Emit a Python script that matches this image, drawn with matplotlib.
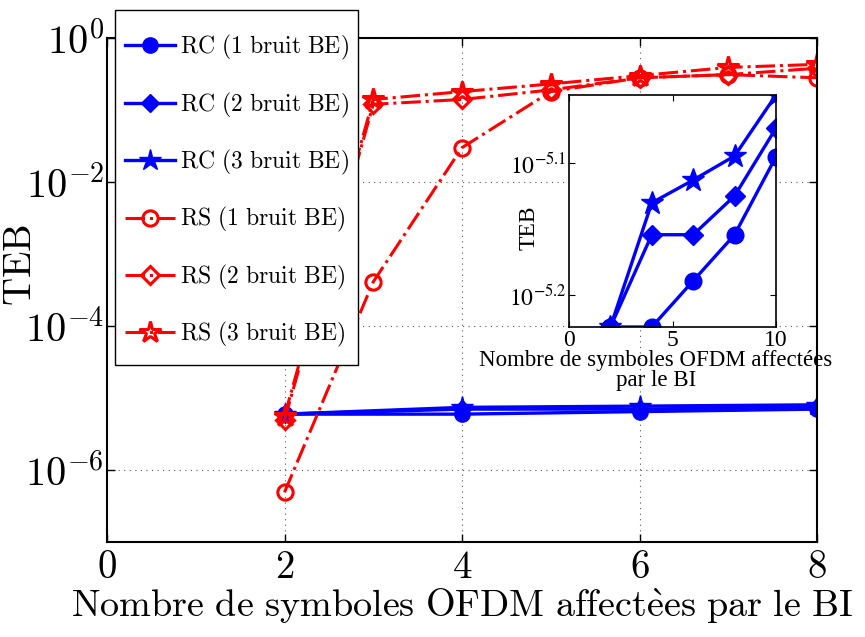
import matplotlib
matplotlib.use("Agg")
import matplotlib.pyplot as plt
from matplotlib.patches import Rectangle
from matplotlib.ticker import NullLocator, NullFormatter

plt.rcParams['font.family'] = ['Liberation Serif', 'DejaVu Serif']
plt.rcParams['mathtext.fontset'] = 'cm'

# ---------------- data ----------------
x_rc = [2, 4, 6, 8]
rc1 = [5.97e-6, 5.97e-6, 6.47e-6, 7.01e-6]
rc2 = [5.97e-6, 7.01e-6, 7.01e-6, 7.50e-6]
rc3 = [5.97e-6, 7.41e-6, 7.71e-6, 8.04e-6]

x_rs = [2, 3, 4, 5, 6, 7, 8]
rs1 = [4.9e-7, 4.1e-4, 3.0e-2, 0.18, 0.28, 0.31, 0.28]
rs2 = [4.9e-6, 0.12, 0.14, 0.19, 0.28, 0.31, 0.38]
rs3 = [5.6e-6, 0.14, 0.18, 0.23, 0.30, 0.39, 0.43]

x_inset = [2, 4, 6, 8, 10]
rc1_inset = [5.97e-6, 5.97e-6, 6.47e-6, 7.01e-6, 8.03e-6]
rc2_inset = [5.97e-6, 7.01e-6, 7.01e-6, 7.50e-6, 8.44e-6]
rc3_inset = [5.97e-6, 7.41e-6, 7.71e-6, 8.04e-6, 8.94e-6]

labels = ['RC (1 bruit BE)', 'RC (2 bruit BE)', 'RC (3 bruit BE)',
          'RS (1 bruit BE)', 'RS (2 bruit BE)', 'RS (3 bruit BE)']

main_xticks = [0, 2, 4, 6, 8]
main_yexps = [-6, -4, -2, 0]
inset_xticks = [0, 5, 10]
inset_yexps = [-5.2, -5.1]

xlabel_main = 'Nombre de symboles OFDM affectèes par le BI'
xlabel_inset = 'Nombre de symboles OFDM affectées\npar le BI'
ylabel = 'TEB'


def cm_text(s):
    s = s.replace('è', r'\grave{e}').replace(' ', r'\ ')
    return r'$\mathrm{' + s + '}$'


W, H = 865, 637

# ---------------- figure ----------------
fig = plt.figure(figsize=(8.65, 6.37), dpi=100)
ax = fig.add_axes([107 / W, 1 - 542 / H, (817 - 107) / W, (542 - 38) / H])

blue = (0, 0, 1)
red = (1, 0, 0)

ax.plot(x_rc, rc1, '-', color=blue, lw=2.4, marker='o', ms=11, label=cm_text(labels[0]))
ax.plot(x_rc, rc2, '-', color=blue, lw=2.4, marker='D', ms=9, label=cm_text(labels[1]))
ax.plot(x_rc, rc3, '-', color=blue, lw=2.4, marker='*', ms=16, label=cm_text(labels[2]))
ax.plot(x_rs, rs1, '-.', color=red, lw=2.2, marker='o', ms=11, mfc='none', mew=2.2, label=cm_text(labels[3]))
ax.plot(x_rs, rs2, '-.', color=red, lw=2.2, marker='D', ms=9, mfc='none', mew=2.2, label=cm_text(labels[4]))
ax.plot(x_rs, rs3, '-.', color=red, lw=2.2, marker='*', ms=16, mfc='none', mew=2.2, label=cm_text(labels[5]))

ax.set_yscale('log')
ax.set_xlim(0, 8)
ax.set_ylim(1e-7, 1)
ax.set_xticks(main_xticks, [f'${v}$' for v in main_xticks], fontsize=28)
ax.set_yticks([10.0 ** e for e in main_yexps], [f'$10^{{{e}}}$' for e in main_yexps], fontsize=29)
ax.yaxis.set_minor_locator(NullLocator())
ax.yaxis.set_minor_formatter(NullFormatter())
ax.tick_params(direction='in', length=6, width=1, top=True, right=True)
ax.tick_params(axis='x', pad=6)
ax.tick_params(axis='y', pad=2)
ax.grid(True, which='major', linestyle=(0, (1, 4)), color='0.35', lw=0.8)
for sp in ax.spines.values():
    sp.set_linewidth(1.5)
ax.set_xlabel(cm_text(xlabel_main), fontsize=27.5, labelpad=-1)
ax.set_ylabel(cm_text(ylabel), fontsize=28)
ax.yaxis.set_label_coords(-0.094, 0.55)

# legend box (frame drawn separately so it can have MATLAB-like padding)
ax.add_patch(Rectangle((115 / W, 1 - 365 / H), 243 / W, 355 / H, transform=fig.transFigure,
                       facecolor='white', edgecolor='black', lw=1.0, clip_on=False, zorder=4.9))
leg = ax.legend(loc='upper left', bbox_to_anchor=(125 / W, 1 - 33 / H),
                bbox_transform=fig.transFigure, borderaxespad=0, fontsize=17,
                frameon=False, numpoints=1, handlelength=2.1, labelspacing=1.2,
                borderpad=0, handletextpad=0.25)
leg.set_zorder(5)

# ---------------- inset ----------------
axi = fig.add_axes([569 / W, 1 - 327 / H, (776 - 569) / W, (327 - 95) / H])
axi.plot(x_inset, rc1_inset, '-', color=blue, lw=2.4, marker='o', ms=12)
axi.plot(x_inset, rc2_inset, '-', color=blue, lw=2.4, marker='D', ms=10)
axi.plot(x_inset, rc3_inset, '-', color=blue, lw=2.4, marker='*', ms=17)
axi.set_yscale('log')
axi.set_xlim(0, 10)
axi.set_ylim(min(rc1_inset), max(rc3_inset))
axi.yaxis.set_minor_locator(NullLocator())
axi.yaxis.set_minor_formatter(NullFormatter())
axi.set_xticks(inset_xticks, [str(v) for v in inset_xticks], fontsize=17)
axi.set_yticks([10.0 ** e for e in inset_yexps], [f'$10^{{{e}}}$' for e in inset_yexps],
               fontsize=17, math_fontfamily='stix')
axi.tick_params(direction='in', length=4, top=True, right=True, pad=2)
for sp in axi.spines.values():
    sp.set_linewidth(1.2)
axi.set_xlabel(xlabel_inset, fontsize=16.5, linespacing=0.95)
axi.xaxis.set_label_coords(0.42, -0.1)
axi.set_ylabel(ylabel, fontsize=17)
axi.yaxis.set_label_coords(-0.14, 0.427)

fig.savefig('out.png', dpi=100)
